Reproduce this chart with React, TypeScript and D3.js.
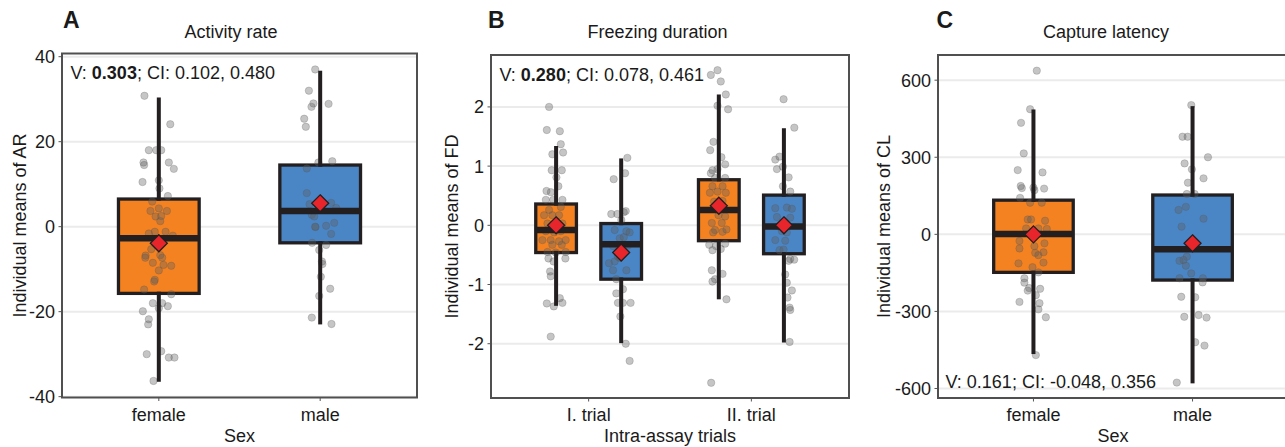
import React from "react";
import * as d3 from "d3";

type Pt = [number, number]; // [value, jitter in category units]

// ---------- categories ----------
const sexCategories = ["female", "male"];
const trialCategories = ["I. trial", "II. trial"];

// ---------- tick values ----------
const arTicks = [-40, -20, 0, 20, 40];
const fdTicks = [-2, -1, 0, 1, 2];
const clTicks = [-600, -300, 0, 300, 600];

// ---------- box statistics: [whiskerLow, q1, median, q3, whiskerHigh, mean] ----------
const arFemaleStats = [-36.5, -15.7, -2.7, 6.5, 30.4, -3.9];
const arMaleStats = [-23.0, -3.8, 3.7, 14.5, 36.7, 5.5];
const fdFemaleT1Stats = [-1.36, -0.46, -0.08, 0.36, 1.34, 0.0];
const fdMaleT1Stats = [-1.99, -0.91, -0.32, 0.03, 1.13, -0.46];
const fdFemaleT2Stats = [-1.25, -0.26, 0.26, 0.77, 2.21, 0.33];
const fdMaleT2Stats = [-1.98, -0.48, -0.02, 0.51, 1.64, 0.0];
const clFemaleStats = [-466, -148, 1, 133, 486, 0];
const clMaleStats = [-580, -178, -58, 153, 499, -35];

// ---------- individual points ----------
const arFemalePoints: Pt[] = [
  [30.8, -0.089], [24.1, 0.071], [18.0, -0.062], [18.0, -0.016], [18.0, 0.015],
  [15.1, -0.095], [14.5, -0.091], [15.1, 0.062], [13.6, 0.093], [10.5, -0.101],
  [10.9, 0.0], [9.0, 0.004], [7.2, 0.056], [5.9, -0.041], [3.7, -0.052],
  [4.3, 0.0], [3.7, 0.05], [2.4, -0.02], [2.5, 0.015], [1.3, 0.009],
  [-1.2, -0.025], [-1.2, 0.042], [-2.1, 0.087], [-5.3, -0.047], [-6.8, -0.082],
  [-7.3, -0.084], [-6.7, 0.009], [-7.3, 0.021], [-8.5, -0.037], [-9.0, 0.029],
  [-10.3, 0.0], [-12.5, -0.025], [-12.9, -0.029], [-14.8, -0.091], [-15.9, 0.077],
  [-18.0, -0.037], [-18.0, 0.021], [-18.7, 0.056], [-19.9, -0.099], [-21.8, -0.062],
  [-23.0, -0.066], [-30.0, -0.075], [-29.3, 0.015], [-30.8, 0.062], [-30.8, 0.097],
  [-36.3, -0.033], [-1.6, -0.062], [-9.2, 0.077], [-19.2, 0.0],
];
const arMalePoints: Pt[] = [
  [37.0, -0.031], [32.0, -0.07], [29.0, -0.042], [28.2, -0.054], [28.9, 0.052],
  [25.4, -0.099], [23.5, -0.089], [15.4, 0.075], [15.1, -0.011], [13.7, -0.083],
  [7.9, -0.083], [5.3, -0.066], [5.6, 0.068], [4.4, 0.099], [2.8, -0.052],
  [2.4, -0.037], [0.2, 0.037], [0.9, 0.087], [-0.1, -0.029], [-1.7, 0.068],
  [-3.8, -0.05], [-4.3, 0.037], [-5.5, -0.006], [-8.2, 0.011], [-8.8, 0.014],
  [-11.8, 0.004], [-14.6, 0.062], [-16.3, -0.006], [-21.4, -0.052], [-22.9, 0.07],
  [0.0, -0.031],
];
const fdFemaleT1Points: Pt[] = [
  [2.0, -0.043], [1.61, -0.057], [1.59, 0.023], [1.37, 0.029], [1.2, -0.023],
  [1.23, 0.043], [0.93, -0.027], [0.93, 0.035], [0.81, 0.002], [0.66, 0.014],
  [0.58, -0.059], [0.56, -0.032], [0.43, -0.063], [0.43, -0.018], [0.43, 0.039],
  [0.26, -0.043], [0.31, 0.029], [0.17, -0.074], [0.17, -0.023], [0.17, 0.018],
  [0.03, -0.053], [0.03, 0.039], [-0.1, -0.063], [-0.12, -0.012], [-0.1, 0.029],
  [-0.25, -0.084], [-0.25, -0.033], [-0.27, 0.018], [-0.25, 0.059], [-0.33, -0.023],
  [-0.33, 0.035], [-0.45, -0.053], [-0.46, -0.002], [-0.45, 0.059], [-0.56, -0.047],
  [-0.56, 0.057], [-0.61, -0.016], [-0.78, -0.037], [-0.86, -0.033], [-1.32, -0.057],
  [-1.23, 0.023], [-1.31, 0.039], [-1.37, -0.014], [-1.88, -0.033],
];
const fdMaleT1Points: Pt[] = [
  [1.14, 0.038], [0.88, 0.024], [0.78, -0.046], [0.19, -0.061], [0.19, -0.024],
  [0.22, 0.016], [0.24, 0.028], [0.09, 0.001], [-0.08, -0.04], [-0.1, 0.032],
  [-0.12, 0.052], [-0.22, -0.009], [-0.2, 0.016], [-0.35, -0.05], [-0.34, 0.042],
  [-0.53, -0.02], [-0.55, -0.009], [-0.64, -0.075], [-0.61, -0.04], [-0.76, 0.032],
  [-0.76, -0.05], [-0.91, -0.03], [-1.08, 0.011], [-1.15, -0.03], [-1.31, -0.02],
  [-1.31, 0.011], [-1.31, 0.058], [-1.54, -0.005], [-2.0, 0.028], [-2.29, 0.052],
];
const fdFemaleT2Points: Pt[] = [
  [2.54, -0.049], [2.62, -0.008], [2.43, 0.012], [2.21, 0.043], [2.02, -0.008],
  [1.96, 0.057], [1.41, -0.033], [1.27, -0.053], [1.15, 0.016], [1.03, 0.039],
  [0.93, -0.039], [0.88, -0.049], [0.95, -0.008], [0.8, -0.023], [0.8, 0.039],
  [0.66, -0.039], [0.66, 0.023], [0.55, -0.055], [0.57, -0.008], [0.55, 0.043],
  [0.4, -0.029], [0.41, 0.023], [0.17, -0.002], [0.15, 0.039], [0.04, -0.043],
  [0.04, 0.018], [-0.08, -0.023], [-0.12, -0.035], [-0.11, 0.023], [-0.07, 0.047],
  [-0.33, -0.059], [-0.35, -0.018], [-0.31, 0.039], [-0.42, -0.039], [-0.4, 0.012],
  [-0.76, -0.043], [-0.82, 0.023], [-0.91, -0.023], [-0.95, -0.039], [-1.25, 0.047],
  [-2.66, -0.047],
];
const fdMaleT2Points: Pt[] = [
  [2.13, -0.002], [1.65, 0.064], [1.11, -0.053], [1.16, -0.027], [0.95, -0.043],
  [0.99, -0.006], [0.81, 0.029], [0.66, -0.006], [0.57, 0.039], [0.29, -0.053],
  [0.3, 0.018], [0.28, 0.049], [0.14, -0.043], [0.13, 0.039], [-0.02, -0.033],
  [-0.1, -0.012], [-0.12, 0.018], [-0.25, -0.053], [-0.26, 0.008], [-0.42, -0.027],
  [-0.41, -0.002], [-0.57, 0.039], [-0.58, 0.063], [-0.6, 0.029], [-0.83, 0.008],
  [-0.97, 0.018], [-1.1, 0.049], [-1.22, 0.022], [-1.39, 0.035], [-1.43, 0.039],
  [-1.97, 0.035],
];
const clFemalePoints: Pt[] = [
  [637, 0.021], [487, -0.021], [434, -0.078], [315, -0.061], [250, -0.099],
  [241, 0.057], [188, -0.08], [180, -0.073], [182, 0.0], [178, 0.067],
  [172, 0.006], [142, -0.084], [123, -0.021], [123, 0.052], [58, -0.036],
  [58, -0.015], [53, 0.073], [23, -0.046], [23, 0.031], [21, 0.084],
  [-26, -0.088], [-35, 0.069], [-55, -0.088], [-46, 0.006], [-72, 0.011],
  [-81, 0.031], [-70, 0.063], [-113, -0.094], [-110, 0.063], [-128, -0.006],
  [-148, 0.031], [-171, -0.057], [-188, -0.057], [-209, -0.027], [-219, -0.036],
  [-212, 0.042], [-237, 0.015], [-263, -0.088], [-268, 0.038], [-292, 0.031],
  [-323, 0.078], [-470, 0.015],
];
const clMalePoints: Pt[] = [
  [503, -0.008], [380, -0.063], [380, -0.031], [300, 0.097], [276, -0.05],
  [253, -0.004], [218, 0.069], [201, -0.029], [157, -0.036], [157, 0.013],
  [107, -0.042], [95, -0.088], [61, 0.069], [30, -0.069], [-87, -0.036],
  [-100, -0.057], [-103, -0.082], [-122, -0.042], [-152, -0.008], [-171, -0.082],
  [-171, 0.065], [-187, 0.063], [-243, -0.071], [-245, 0.017], [-321, -0.052],
  [-314, 0.038], [-324, 0.088], [-420, 0.017], [-433, 0.075], [-577, -0.099],
];

// ---------- styles ----------
const ORANGE = "#F58220";
const BLUE = "#4A86C6";
const DARK = "#231F20";
const RED = "#E8252B";
const FONT = "'Liberation Sans', Arial, sans-serif";
const TEXT = "#1a1a1a";
const FS = 18;

type Group = {
  cat: number;
  offset: number;
  width: number;
  color: string;
  stats: number[];
  points: Pt[];
};

type PanelProps = {
  letter: string;
  letterX: number;
  title: string;
  titleX: number;
  xTitle: string;
  yTitle: string;
  yTitleX: number;
  frame: [number, number, number, number]; // x0, x1, y0, y1
  domain: [number, number];
  ticks: number[];
  cats: string[];
  groups: Group[];
  annot: React.ReactNode;
  annotX: number;
  annotY: number;
};

function Panel(p: PanelProps) {
  const [x0, x1, y0, y1] = p.frame;
  const x = d3.scaleLinear().domain([0.4, 2.6]).range([x0, x1]);
  const y = d3.scaleLinear().domain(p.domain).range([y1, y0]);
  const unit = x(1) - x(0);
  const cx = (x0 + x1) / 2;
  const cy = (y0 + y1) / 2;
  return (
    <g fontFamily={FONT}>
      <text x={p.letterX} y={28} fontSize={23} fontWeight="bold" fill={TEXT}>
        {p.letter}
      </text>
      <text x={p.titleX} y={38} fontSize={FS} textAnchor="middle" fill={TEXT}>
        {p.title}
      </text>
      {/* gridlines */}
      {p.ticks.map((t) => (
        <line key={"g" + t} x1={x0} x2={x1} y1={y(t)} y2={y(t)} stroke="#EBEBEB" strokeWidth={2} />
      ))}
      {/* y ticks */}
      {p.ticks.map((t) => (
        <g key={"t" + t}>
          <line x1={x0 - 3.5} x2={x0} y1={y(t)} y2={y(t)} stroke="#555" strokeWidth={1} />
          <text x={x0 - 7} y={y(t)} dy="0.36em" fontSize={FS} textAnchor="end" fill={TEXT}>
            {String(t)}
          </text>
        </g>
      ))}
      {/* x ticks */}
      {p.cats.map((c, i) => (
        <g key={"c" + c}>
          <line x1={x(i + 1)} x2={x(i + 1)} y1={y1} y2={y1 + 3.5} stroke="#555" strokeWidth={1} />
          <text x={x(i + 1)} y={421} fontSize={FS} textAnchor="middle" fill={TEXT}>
            {c}
          </text>
        </g>
      ))}
      <text x={cx} y={441.5} fontSize={FS} textAnchor="middle" fill={TEXT}>
        {p.xTitle}
      </text>
      <text
        transform={`translate(${p.yTitleX},${cy}) rotate(-90)`}
        fontSize={FS}
        textAnchor="middle"
        fill={TEXT}
      >
        {p.yTitle}
      </text>
      {/* groups */}
      {p.groups.map((g, gi) => {
        const gx = x(g.cat + g.offset);
        const hw = (g.width * unit) / 2;
        const [lo, q1, med, q3, hi, mean] = g.stats;
        const my = y(mean);
        const d = 8.5;
        return (
          <g key={"grp" + gi}>
            <rect
              x={gx - hw}
              y={y(q3)}
              width={2 * hw}
              height={y(q1) - y(q3)}
              fill={g.color}
              stroke={DARK}
              strokeWidth={3.3}
            />
            {g.points.map(([v, j], k) => (
              <circle
                key={k}
                cx={gx + j * unit}
                cy={y(v)}
                r={3.7}
                fill="#5e5e5e"
                fillOpacity={0.36}
                stroke="#555"
                strokeOpacity={0.3}
                strokeWidth={0.8}
              />
            ))}
            <line x1={gx} x2={gx} y1={y(q3) + 1.7} y2={y(hi)} stroke={DARK} strokeWidth={4} />
            <line x1={gx} x2={gx} y1={y(q1) - 1.7} y2={y(lo)} stroke={DARK} strokeWidth={4} />
            <line x1={gx - hw} x2={gx + hw} y1={y(med)} y2={y(med)} stroke={DARK} strokeWidth={6.5} />
            <path
              d={`M${gx},${my - d} L${gx + d},${my} L${gx},${my + d} L${gx - d},${my} Z`}
              fill={RED}
              stroke={DARK}
              strokeWidth={1.3}
            />
          </g>
        );
      })}
      {/* frame */}
      <rect x={x0} y={y0} width={x1 - x0} height={y1 - y0} fill="none" stroke="#505050" strokeWidth={2} />
      <text x={p.annotX} y={p.annotY} fontSize={FS} fill={TEXT}>
        {p.annot}
      </text>
    </g>
  );
}

export default function App() {
  return (
    <svg width={1285} height={447} style={{ display: "block", position: "absolute", left: 0, top: 0, background: "#fff" }}>
      <rect x={0} y={0} width={1285} height={447} fill="#fff" />
      <Panel
        letter="A"
        letterX={63}
        title="Activity rate"
        titleX={231}
        xTitle="Sex"
        yTitle="Individual means of AR"
        yTitleX={26}
        frame={[62, 417, 53.5, 397.5]}
        domain={[-40.2, 40.75]}
        ticks={arTicks}
        cats={sexCategories}
        groups={[
          { cat: 1, offset: 0, width: 0.5, color: ORANGE, stats: arFemaleStats, points: arFemalePoints },
          { cat: 2, offset: 0, width: 0.5, color: BLUE, stats: arMaleStats, points: arMalePoints },
        ]}
        annot={
          <>
            <tspan>V: </tspan>
            <tspan fontWeight="bold">0.303</tspan>
            <tspan>; CI: 0.102, 0.480</tspan>
          </>
        }
        annotX={70.5}
        annotY={79}
      />
      <Panel
        letter="B"
        letterX={488}
        title="Freezing duration"
        titleX={657.5}
        xTitle="Intra-assay trials"
        yTitle="Individual means of FD"
        yTitleX={458}
        frame={[491, 849, 55, 398]}
        domain={[-2.917, 2.877]}
        ticks={fdTicks}
        cats={trialCategories}
        groups={[
          { cat: 1, offset: -0.2, width: 0.25, color: ORANGE, stats: fdFemaleT1Stats, points: fdFemaleT1Points },
          { cat: 1, offset: 0.2, width: 0.25, color: BLUE, stats: fdMaleT1Stats, points: fdMaleT1Points },
          { cat: 2, offset: -0.2, width: 0.25, color: ORANGE, stats: fdFemaleT2Stats, points: fdFemaleT2Points },
          { cat: 2, offset: 0.2, width: 0.25, color: BLUE, stats: fdMaleT2Stats, points: fdMaleT2Points },
        ]}
        annot={
          <>
            <tspan>V: </tspan>
            <tspan fontWeight="bold">0.280</tspan>
            <tspan>; CI: 0.078, 0.461</tspan>
          </>
        }
        annotX={499.5}
        annotY={80.5}
      />
      <Panel
        letter="C"
        letterX={936.5}
        title="Capture latency"
        titleX={1106}
        xTitle="Sex"
        yTitle="Individual means of CL"
        yTitleX={890}
        frame={[938, 1288, 55, 398]}
        domain={[-637, 698]}
        ticks={clTicks}
        cats={sexCategories}
        groups={[
          { cat: 1, offset: 0, width: 0.5, color: ORANGE, stats: clFemaleStats, points: clFemalePoints },
          { cat: 2, offset: 0, width: 0.5, color: BLUE, stats: clMaleStats, points: clMalePoints },
        ]}
        annot={<tspan>V: 0.161; CI: -0.048, 0.356</tspan>}
        annotX={945.5}
        annotY={387.5}
      />
    </svg>
  );
}
